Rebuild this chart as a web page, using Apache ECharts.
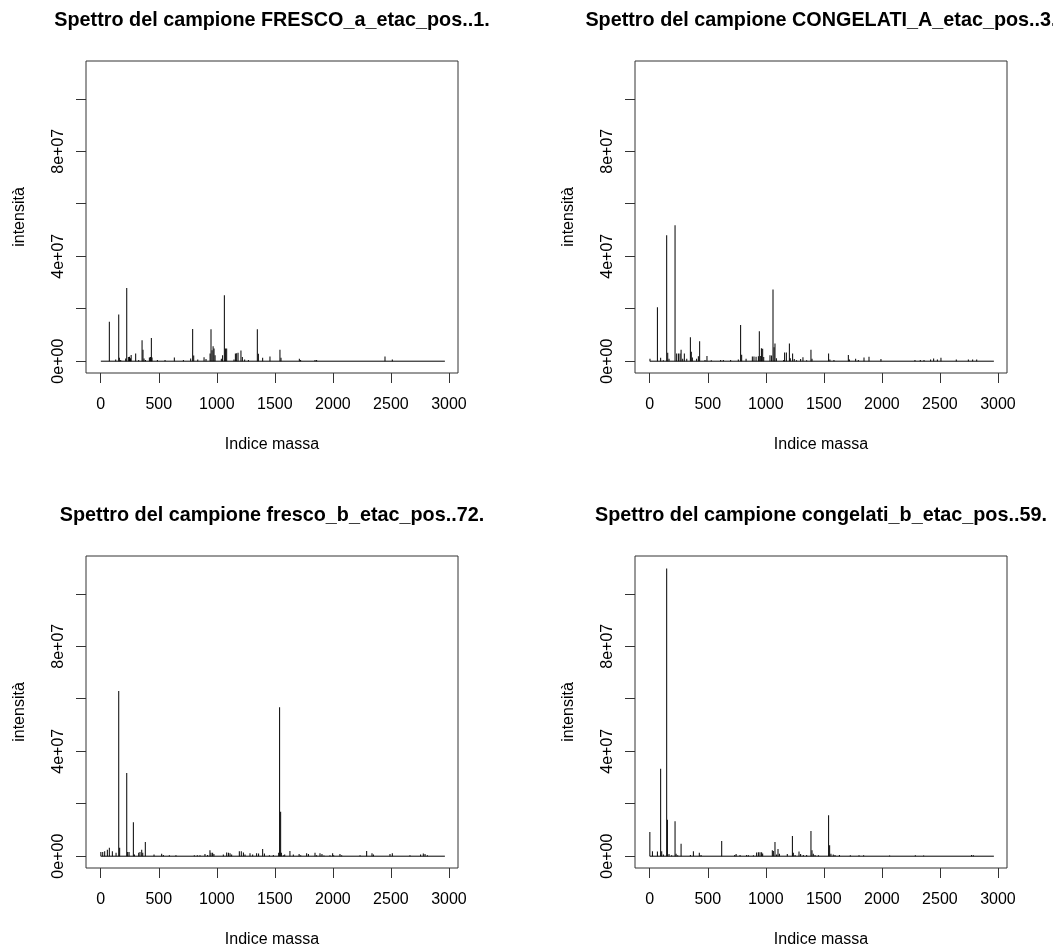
<!DOCTYPE html>
<html>
<head>
<meta charset="utf-8">
<title>Spettri dei campioni</title>
<script src="https://cdn.jsdelivr.net/npm/echarts@6/dist/echarts.min.js"></script>
<style>
  html, body { margin: 0; padding: 0; background: #ffffff; }
  #chart { width: 1053px; height: 950px; }
</style>
</head>
<body>
<div id="chart"></div>
<script>
// Mass-index range covered by every spectrum
const massaMin = 1;
const massaMax = 2965;

// Sample titles, one per panel (top-left, top-right, bottom-left, bottom-right)
const titoli = [
  'Spettro del campione FRESCO_a_etac_pos..1.',
  'Spettro del campione CONGELATI_A_etac_pos..3.',
  'Spettro del campione fresco_b_etac_pos..72.',
  'Spettro del campione congelati_b_etac_pos..59.'
];

// Axis ticks
const xTicks = [0, 500, 1000, 1500, 2000, 2500, 3000];
const yTicks = [0, 2e7, 4e7, 6e7, 8e7, 1e8];
const yLabelTicks = [0, 4e7, 8e7];

// Peaks: [indice massa, intensità]
const frescoA = [
  [74,1.50e7],[129,0.06e7],[155,1.78e7],[160,0.13e7],[172,0.05e7],[215,0.10e7],[224,2.79e7],
  [238,0.16e7],[248,0.17e7],[256,0.11e7],[262,0.24e7],[301,0.29e7],[327,0.05e7],[356,0.80e7],
  [364,0.44e7],[373,0.10e7],[385,0.05e7],[419,0.14e7],[428,0.16e7],[436,0.88e7],[442,0.14e7],
  [488,0.05e7],[554,0.05e7],[634,0.14e7],[712,0.05e7],[775,0.10e7],[792,1.23e7],[801,0.22e7],
  [836,0.06e7],[890,0.15e7],[907,0.08e7],[942,0.29e7],[950,1.22e7],[959,0.42e7],[968,0.57e7],
  [976,0.48e7],[985,0.23e7],[1039,0.09e7],[1050,0.23e7],[1065,2.51e7],[1074,0.48e7],[1085,0.48e7],
  [1148,0.06e7],[1160,0.29e7],[1171,0.30e7],[1183,0.32e7],[1208,0.41e7],[1220,0.16e7],[1240,0.06e7],
  [1272,0.05e7],[1349,1.22e7],[1358,0.28e7],[1395,0.13e7],[1458,0.18e7],[1544,0.44e7],[1553,0.13e7],
  [1711,0.09e7],[1722,0.05e7],[1846,0.05e7],[1860,0.05e7],[2449,0.18e7],[2512,0.06e7]
];

const congelatiA = [
  [2,0.09e7],[66,2.06e7],[94,0.13e7],[117,0.04e7],[146,4.80e7],[155,0.32e7],[166,0.09e7],
  [218,5.18e7],[232,0.29e7],[247,0.29e7],[261,0.29e7],[270,0.44e7],[284,0.09e7],[298,0.29e7],
  [319,0.09e7],[350,0.91e7],[358,0.36e7],[367,0.14e7],[404,0.09e7],[419,0.19e7],[430,0.76e7],
  [476,0.05e7],[493,0.20e7],[530,0.04e7],[611,0.05e7],[634,0.05e7],[697,0.05e7],[763,0.06e7],
  [783,1.38e7],[792,0.25e7],[830,0.09e7],[884,0.18e7],[898,0.18e7],[916,0.17e7],[936,0.19e7],
  [944,1.14e7],[956,0.20e7],[962,0.49e7],[973,0.47e7],[982,0.16e7],[1036,0.23e7],[1050,0.22e7],
  [1062,2.73e7],[1071,0.53e7],[1079,0.67e7],[1091,0.11e7],[1154,0.05e7],[1162,0.33e7],[1177,0.33e7],
  [1203,0.67e7],[1211,0.11e7],[1231,0.29e7],[1245,0.08e7],[1265,0.04e7],[1300,0.08e7],[1320,0.15e7],
  [1352,0.04e7],[1389,0.44e7],[1398,0.09e7],[1541,0.29e7],[1552,0.06e7],[1587,0.05e7],[1711,0.24e7],
  [1720,0.06e7],[1774,0.09e7],[1797,0.05e7],[1846,0.14e7],[1889,0.17e7],[1992,0.08e7],[2285,0.05e7],
  [2331,0.05e7],[2363,0.05e7],[2420,0.06e7],[2446,0.10e7],[2478,0.06e7],[2509,0.13e7],[2641,0.06e7],
  [2745,0.06e7],[2782,0.06e7],[2817,0.06e7]
];

const frescoB = [
  [1,0.16e7],[17,0.16e7],[34,0.19e7],[57,0.25e7],[74,0.32e7],[100,0.19e7],[132,0.13e7],
  [155,6.30e7],[163,0.32e7],[224,3.17e7],[232,0.16e7],[244,0.16e7],[281,1.29e7],[290,0.06e7],
  [327,0.13e7],[338,0.16e7],[353,0.25e7],[362,0.13e7],[384,0.54e7],[459,0.06e7],[525,0.09e7],
  [539,0.05e7],[591,0.04e7],[648,0.04e7],[806,0.04e7],[832,0.04e7],[855,0.04e7],[898,0.08e7],
  [921,0.05e7],[941,0.23e7],[950,0.13e7],[964,0.13e7],[975,0.08e7],[1056,0.06e7],[1085,0.14e7],
  [1100,0.13e7],[1114,0.11e7],[1128,0.06e7],[1194,0.19e7],[1211,0.19e7],[1229,0.14e7],[1243,0.06e7],
  [1286,0.11e7],[1309,0.06e7],[1343,0.11e7],[1360,0.10e7],[1395,0.27e7],[1410,0.10e7],[1453,0.04e7],
  [1487,0.05e7],[1533,0.13e7],[1541,5.68e7],[1550,1.69e7],[1556,0.13e7],[1573,0.04e7],[1585,0.06e7],
  [1630,0.20e7],[1659,0.06e7],[1709,0.08e7],[1723,0.04e7],[1774,0.11e7],[1789,0.08e7],[1846,0.13e7],
  [1860,0.04e7],[1889,0.11e7],[1906,0.08e7],[1923,0.03e7],[1975,0.04e7],[1998,0.11e7],[2007,0.04e7],
  [2061,0.08e7],[2076,0.04e7],[2234,0.04e7],[2291,0.20e7],[2337,0.11e7],[2349,0.06e7],[2492,0.08e7],
  [2512,0.11e7],[2664,0.04e7],[2756,0.06e7],[2779,0.10e7],[2794,0.08e7],[2814,0.04e7]
];

const congelatiB = [
  [1,0.92e7],[23,0.19e7],[66,0.18e7],[94,3.33e7],[103,0.19e7],[117,0.06e7],[146,10.96e7],
  [152,1.39e7],[166,0.08e7],[189,0.04e7],[218,1.33e7],[227,0.09e7],[241,0.04e7],[270,0.47e7],
  [350,0.05e7],[376,0.19e7],[427,0.13e7],[442,0.05e7],[620,0.58e7],[732,0.05e7],[744,0.08e7],
  [778,0.05e7],[835,0.05e7],[850,0.04e7],[893,0.04e7],[921,0.14e7],[936,0.15e7],[950,0.15e7],
  [964,0.15e7],[973,0.10e7],[1056,0.23e7],[1065,0.20e7],[1079,0.54e7],[1093,0.06e7],[1105,0.27e7],
  [1117,0.09e7],[1185,0.08e7],[1229,0.77e7],[1237,0.13e7],[1252,0.05e7],[1286,0.18e7],[1300,0.08e7],
  [1323,0.05e7],[1352,0.05e7],[1389,0.96e7],[1398,0.23e7],[1409,0.09e7],[1424,0.05e7],[1453,0.04e7],
  [1541,1.56e7],[1550,0.42e7],[1561,0.09e7],[1581,0.06e7],[1596,0.05e7],[1634,0.05e7],[1728,0.04e7],
  [1803,0.04e7],[1843,0.04e7],[2067,0.03e7],[2288,0.04e7],[2360,0.03e7],[2773,0.05e7],[2788,0.04e7]
];

const spettri = [frescoA, congelatiA, frescoB, congelatiB];

// ---- layout of the 2x2 panel grid ----
const FONT = '"Liberation Sans", Arial, Helvetica, sans-serif';
const boxW = 372, boxH = 312;
const panelPos = [
  { left: 86,  top: 61 },
  { left: 635, top: 61 },
  { left: 86,  top: 556 },
  { left: 635, top: 556 }
];
const frame = '#333333';

// R-style scientific labels: 4e+07, 0e+00
function sci(v) {
  const s = Number(v).toExponential();
  const m = s.match(/^(.*)e([+-])(\d+)$/);
  const exp = m[3].length < 2 ? '0' + m[3] : m[3];
  return m[1] + 'e' + m[2] + exp;
}

const grids = [], xAxes = [], yAxes = [], series = [], graphics = [];

panelPos.forEach((p, i) => {
  grids.push({
    left: p.left, top: p.top, width: boxW, height: boxH,
    show: true, borderColor: frame, borderWidth: 1, backgroundColor: 'transparent'
  });
  xAxes.push({
    type: 'value', gridIndex: i, min: -127, max: 3078, position: 'bottom',
    name: 'Indice massa', nameLocation: 'middle', nameGap: 64,
    nameTextStyle: { fontFamily: FONT, fontSize: 16, color: '#000' },
    axisLine: { show: false, onZero: false },
    splitLine: { show: false },
    axisTick: { show: true, inside: false, length: 10, customValues: xTicks,
                lineStyle: { color: frame, width: 1 } },
    axisLabel: { show: true, margin: 24, customValues: xTicks, fontFamily: FONT,
                 formatter: v => String(v),
                 fontSize: 16, color: '#000', showMinLabel: true, showMaxLabel: true }
  });
  yAxes.push({
    type: 'value', gridIndex: i, min: -4.5e6, max: 1.144e8, position: 'left',
    name: 'intensità', nameLocation: 'middle', nameGap: 58,
    nameTextStyle: { fontFamily: FONT, fontSize: 16, color: '#000' },
    axisLine: { show: false, onZero: false },
    splitLine: { show: false },
    axisTick: { show: true, inside: false, length: 10, customValues: yTicks,
                lineStyle: { color: frame, width: 1 } },
    axisLabel: { show: true, margin: 19, rotate: 90, customValues: yLabelTicks,
                 formatter: sci, fontFamily: FONT, fontSize: 16, color: '#000' }
  });
  // baseline of the spectrum
  series.push({
    type: 'line', xAxisIndex: i, yAxisIndex: i, silent: true,
    data: [[massaMin, 0], [massaMax, 0]],
    showSymbol: false, symbol: 'none',
    lineStyle: { color: '#000', width: 1 }
  });
  // vertical intensity lines (type "h")
  series.push({
    type: 'bar', xAxisIndex: i, yAxisIndex: i, silent: true,
    data: spettri[i], barWidth: 1,
    itemStyle: { color: '#000' }
  });
  graphics.push({
    type: 'text', x: p.left + boxW / 2, y: p.top - 40,
    style: { text: titoli[i], font: 'bold 19.8px ' + FONT, fill: '#000',
             textAlign: 'center', textVerticalAlign: 'middle' }
  });
});

const chart = echarts.init(document.getElementById('chart'), null, { renderer: 'canvas' });
chart.setOption({
  animation: false,
  backgroundColor: '#ffffff',
  grid: grids,
  xAxis: xAxes,
  yAxis: yAxes,
  series: series,
  graphic: graphics
});
</script>
</body>
</html>
